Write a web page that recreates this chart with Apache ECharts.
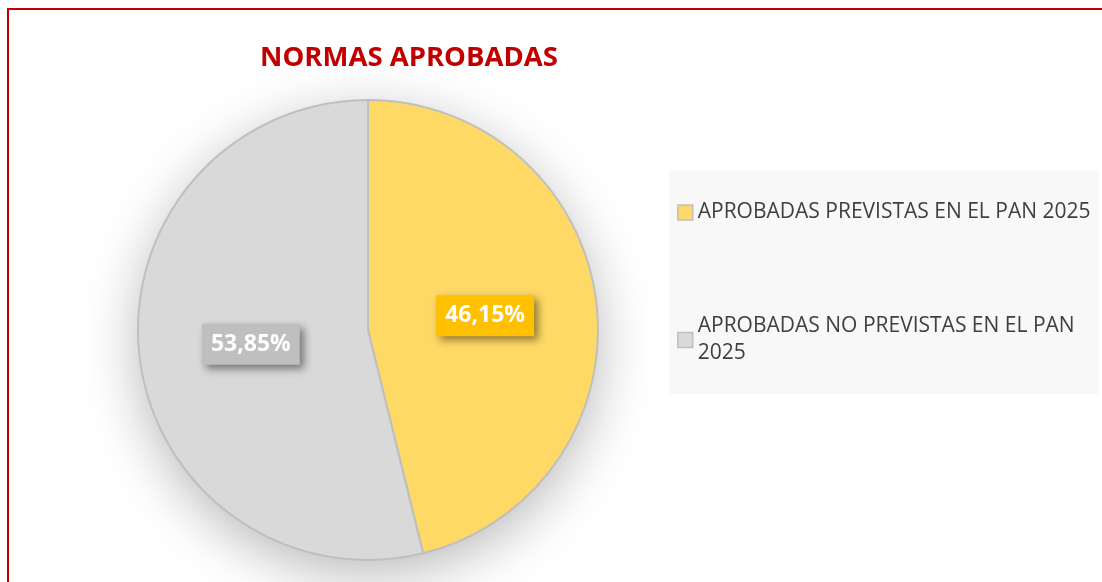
<!DOCTYPE html>
<html><head><meta charset="utf-8">
<script src="https://cdn.jsdelivr.net/npm/echarts@6/dist/echarts.min.js"></script>
<style>html,body{margin:0;padding:0;background:#fff}#c{width:1102px;height:582px}</style>
</head><body><div id="c"></div>
<script>
const categories = ['APROBADAS PREVISTAS EN EL PAN 2025', 'APROBADAS NO PREVISTAS EN EL PAN 2025'];
const values = [46.15, 53.85];
const colors = ['#ffd966', '#d9d9d9'];
const labelColors = ['#ffc000', '#bfbfbf'];
const titleText = 'NORMAS APROBADAS';

const chart = echarts.init(document.getElementById('c'));
chart.setOption({
  animation: false,
  title: {
    text: titleText, left: 404, top: 39, textAlign: 'center',
    textStyle: {color: '#c00000', fontFamily: 'Open Sans', fontWeight: 'bold', fontSize: 27.5}
  },
  graphic: [
    {type: 'rect', z: -10, shape: {x: 8, y: 9, width: 1110, height: 600}, style: {fill: 'none', stroke: '#c00000', lineWidth: 2}},
    {type: 'rect', z: -10, shape: {x: 669, y: 171, width: 430, height: 223}, style: {fill: '#f8f8f8'}}
  ],
  legend: {
    orient: 'vertical', left: 672, top: 194, itemWidth: 15, itemHeight: 15, itemGap: 87,
    icon: 'rect',
    itemStyle: {borderColor: '#bfbfbf', borderWidth: 1.5},
    textStyle: {color: '#404040', fontFamily: 'Open Sans', fontSize: 21, width: 396, overflow: 'break', lineHeight: 27},
    data: categories
  },
  series: [
    {
      type: 'pie', silent: true, center: [368, 330], radius: 230, z: 1,
      label: {show: false}, labelLine: {show: false}, legendHoverLink: false,
      itemStyle: {color: '#fff', shadowBlur: 55, shadowColor: 'rgba(0,0,0,0.28)', shadowOffsetY: 14},
      data: [{value: 1, name: '_bg'}]
    },
    {
      type: 'pie', center: [368, 330], radius: 230, startAngle: 90, clockwise: true, z: 2,
      itemStyle: {borderColor: '#bfbfbf', borderWidth: 2},
      label: {
        show: true, position: 'inside', color: '#fff', fontFamily: 'Open Sans', fontWeight: 'bold', fontSize: 23,
        padding: [10, 9, 8, 9],
        shadowBlur: 8, shadowColor: 'rgba(0,0,0,0.45)', shadowOffsetX: 4, shadowOffsetY: 4,
        formatter: p => p.value.toFixed(2).replace('.', ',') + '%'
      },
      labelLine: {show: false},
      data: categories.map((c, i) => ({
        name: c, value: values[i],
        itemStyle: {color: colors[i]},
        label: {backgroundColor: labelColors[i]}
      }))
    }
  ]
});
</script></body></html>
